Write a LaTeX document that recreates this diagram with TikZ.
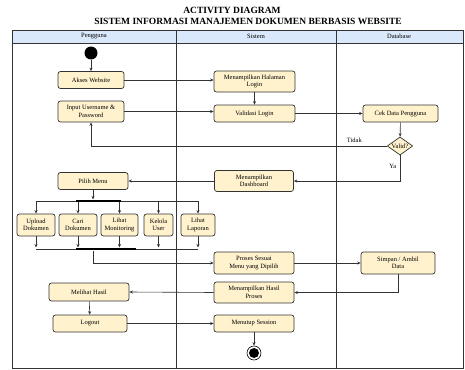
\documentclass[tikz,border=0pt]{standalone}
\usepackage{fontspec}
\setmainfont{Liberation Serif}
\usetikzlibrary{arrows.meta,shapes.geometric}

\definecolor{actfill}{HTML}{FFF2CC}
\definecolor{headfill}{HTML}{DAE8FC}
\definecolor{linegray}{HTML}{333333}

\tikzset{
  act/.style={draw=linegray, fill=actfill, rounded corners=2.5pt, line width=0.7pt,
    minimum height=17pt, align=center, inner sep=1pt, font=\fontsize{6.5}{7.5}\selectfont},
  decision/.style={draw=linegray, fill=actfill, diamond, aspect=1.4, line width=0.7pt,
    inner sep=0.5pt, font=\fontsize{6.5}{7.5}\selectfont},
  bar/.style={fill=black, inner sep=0pt, minimum height=2.6pt},
  flow/.style={draw=linegray, line width=0.6pt, -{Stealth[length=3.5pt,width=3pt]}},
  plain/.style={draw=linegray, line width=0.6pt},
  lane/.style={draw=linegray, line width=0.8pt},
  lbl/.style={font=\fontsize{6.5}{7.5}\selectfont}
}

\begin{document}
\begin{tikzpicture}[x=1pt,y=-1pt]
\useasboundingbox (0,0) rectangle (465,369);

% title
\node[font=\fontsize{9.5}{11}\selectfont\bfseries] (title1) at (232,10) {ACTIVITY DIAGRAM};
\node[font=\fontsize{9.5}{11}\selectfont\bfseries] (title2) at (248,21) {SISTEM INFORMASI MANAJEMEN DOKUMEN BERBASIS WEBSITE};

% swimlanes
\fill[headfill] (12,30) rectangle (463,43);
\draw[lane] (12,30) rectangle (463,368);
\draw[lane] (12,43) -- (463,43);
\draw[lane] (176,30) -- (176,368);
\draw[lane] (336,30) -- (336,368);
\node[lbl] (lane1) at (94,36.5) {Pengguna};
\node[lbl] (lane2) at (256,36.5) {Sistem};
\node[lbl] (lane3) at (399,36.5) {Database};

% pengguna
\node[circle, fill=black, minimum size=13pt, inner sep=0pt] (start) at (91,53) {};
\node[act, minimum width=66pt] (akses) at (91,80) {Akses Website};
\node[act, minimum width=66pt, minimum height=21pt] (input) at (91,111.5) {Input Username \&\\Password};
\node[act, minimum width=70pt] (pilih) at (93,181) {Pilih Menu};
\node[act, minimum width=38pt, minimum height=22pt] (upload) at (36,225) {Upload\\Dokumen};
\node[act, minimum width=38pt, minimum height=22pt] (cari) at (78,225) {Cari\\Dokumen};
\node[act, minimum width=37pt, minimum height=22pt] (monitor) at (119.5,225) {Lihat\\Monitoring};
\node[act, minimum width=29pt, minimum height=22pt] (kelola) at (158.5,225) {Kelola\\User};
\node[act, minimum width=34pt, minimum height=22pt] (laporan) at (198,225) {Lihat\\Laporan};
\node[bar, minimum width=45pt] (fork) at (98.5,201) {};
\node[bar, minimum width=60pt] (join) at (106,249) {};
\node[act, minimum width=80pt, minimum height=18pt] (melihat) at (89,292) {Melihat Hasil};
\node[act, minimum width=74pt] (logout) at (90,323.5) {Logout};

% sistem
\node[act, minimum width=81pt, minimum height=21pt] (halaman) at (254.5,81.5) {Menampilkan Halaman\\Login};
\node[act, minimum width=81pt] (validasi) at (254.5,113.5) {Validasi Login};
\node[act, minimum width=79pt, minimum height=21pt] (dashboard) at (254,181) {Menampilkan\\Dashboard};
\node[act, minimum width=80pt, minimum height=22pt] (proses) at (254,263) {Proses Sesuai\\Menu yang Dipilih};
\node[act, minimum width=80pt, minimum height=21pt] (hasilproses) at (254,292.5) {Menampilkan Hasil\\Proses};
\node[act, minimum width=80pt] (tutup) at (254,323.5) {Menutup Session};
\node[circle, draw=black, line width=0.6pt, minimum size=14pt, inner sep=0pt] (end) at (254,353) {};
\fill[black] (end.center) circle (5pt);

% database
\node[act, minimum width=75pt] (cek) at (400.5,113.5) {Cek Data Pengguna};
\node[decision] (valid) at (400,146) {Valid?};
\node[act, minimum width=74pt, minimum height=22pt] (simpan) at (398,263) {Simpan / Ambil\\Data};

% alur login
\draw[flow] (start) -- (akses);
\draw[flow] (akses.east) -- (akses.east -| halaman.west);
\draw[flow] (halaman) -- (validasi);
\draw[flow] (input.east) -- (input.east -| validasi.west);
\draw[flow] (validasi) -- (cek);
\draw[flow] (cek) -- (valid);
\draw[flow] (valid.west) -- (valid.west -| input) node[lbl, pos=0.11, above] {Tidak} -- (input.south);
\draw[flow] (valid.south) |- (dashboard.east) node[lbl, pos=0.22, left] {Ya};
\draw[flow] (dashboard.west) -- (pilih.east);

% fork / join menu
\draw[flow] (pilih.south) -- (pilih.south |- fork.north);
\draw[plain] (upload.north |- fork) -- (laporan.north |- fork);
\draw[plain] (upload.south |- join) -- (laporan.south |- join);
\foreach \m in {upload,cari,monitor,kelola,laporan} {
  \draw[flow] (\m.north |- fork) -- (\m.north);
  \draw[flow] (\m.south) -- (\m.south |- join.north);
}
\node[bar, minimum width=45pt] at (fork) {};
\node[bar, minimum width=60pt] at (join) {};

% alur proses
\draw[flow] (join.south -| pilih) |- (proses.west);
\draw[flow] (proses) -- (simpan);
\draw[flow] (simpan.south) |- (hasilproses.east);
\draw[flow] (hasilproses.west) -- (melihat.east);
\draw[flow] (melihat) -- (logout);
\draw[flow] (logout) -- (tutup);
\draw[flow] (tutup) -- (end);
\end{tikzpicture}
\end{document}
